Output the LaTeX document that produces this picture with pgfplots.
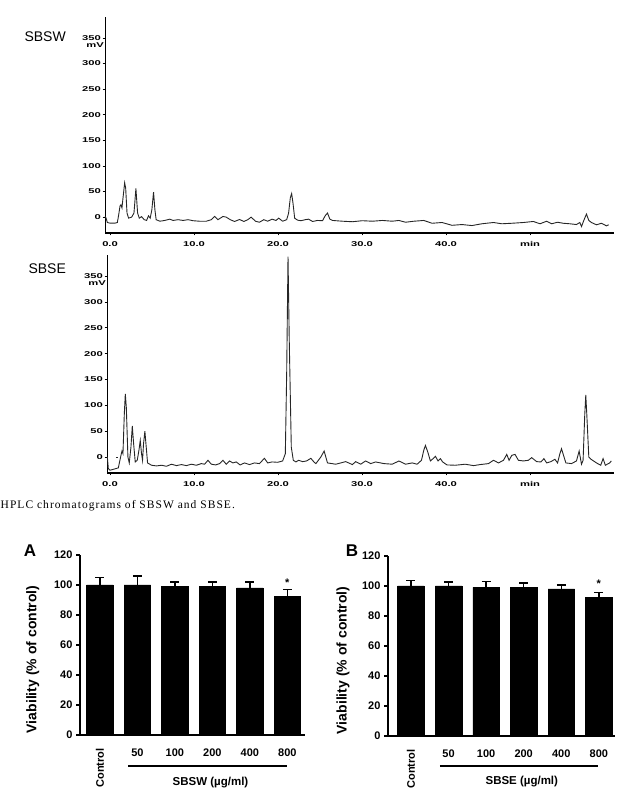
\documentclass[border=0pt]{standalone}
\usepackage{fontspec}
\setmainfont{Liberation Sans}
\newfontfamily\capfont[LetterSpace=9]{Liberation Serif}
\usepackage{graphicx}
\usepackage{pgfplots}
\pgfplotsset{compat=1.18}
\newcommand{\cl}[1]{\scalebox{1.6}[1]{\fontsize{7}{7}\selectfont\bfseries #1}}
\pgfplotsset{
  chrom/.style={
    scale only axis, anchor=south west,
    axis x line=bottom, axis y line=left,
    axis line style={-, black},
    x axis line style={line width=1.3pt},
    y axis line style={line width=0.8pt},
    tick align=outside, major tick length=2.5pt,
    tick style={black, line width=0.8pt},
    xtick={0,10,20,30,40,50},
    xticklabels={\cl{0.0},\cl{10.0},\cl{20.0},\cl{30.0},\cl{40.0},\cl{min}},
    ytick={0,50,100,150,200,250,300,350},
    yticklabels={\cl{0},\cl{50},\cl{100},\cl{150},\cl{200},\cl{250},\cl{300},\cl{350}},
    xticklabel style={inner sep=1.5pt, yshift=-4pt},
    yticklabel style={inner sep=1.5pt},
    ymin=-31, ymax=391, clip=false,
  },
  vbar/.style={
    scale only axis, anchor=south west,
    axis x line=bottom, axis y line=left,
    axis line style={-, black, line width=1.1pt},
    ymin=0, ymax=120, ytick={0,20,...,120},
    /pgf/number format/assume math mode=true,
    tick align=outside, major tick length=4pt,
    y tick style={black, line width=1.1pt},
    x tick style={draw=none},
    xtick={0,1,2,3,4,5},
    xticklabels={\rotatebox{90}{Control},50,100,200,400,800},
    tick label style={font=\fontsize{11}{12}\selectfont\bfseries},
    xticklabel style={yshift=-6pt},
    ylabel={Viability (\% of control)},
    ylabel style={font=\fontsize{14}{15}\selectfont\bfseries, anchor=center},
    clip=false, height=180pt,
  },
}
\begin{document}
\begin{tikzpicture}[x=1pt,y=1pt]
\useasboundingbox (0,0) rectangle (637,802);

% ---------------- SBSW chromatogram ----------------
\node[anchor=west, font=\fontsize{14}{14}\selectfont] at (21,765) {SBSW};
\begin{axis}[chrom, at={(105pt,569pt)}, width=509pt, height=216pt, xmin=-0.6, xmax=60]
\addplot[black!85, line width=0.9pt] coordinates {
(-0.59,1.3) (-0.47,-2) (-0.32,-10.5) (0,-11.8) (0.59,-11.8) (0.87,-10.5) (1.03,4.6)
(1.19,22) (1.30,24) (1.42,18) (1.54,37) (1.74,67) (1.86,57) (2.02,8) (2.21,-2)
(2.57,0) (2.85,8) (3.08,56) (3.28,8) (3.48,-2) (3.75,1) (4.07,-5) (4.35,-6.5)
(4.58,2.6) (4.78,-2) (4.98,14.5) (5.18,49) (5.34,14.5) (5.49,-5) (5.93,-8)
(6.52,-6.5) (7.11,-4) (7.51,-6.5) (8.10,-5) (8.70,-6.5) (9.29,-5) (9.88,-7)
(10.67,-8) (11.46,-8) (12.06,-5) (12.45,1.3) (12.85,-5) (13.44,1.3) (13.83,0)
(14.31,-5) (14.82,-8.5) (15.42,-4.6) (15.93,-8.5) (16.40,-5) (16.80,0) (17.31,-8)
(17.79,-10) (18.30,-5) (18.77,-8) (19.29,-4) (19.76,-6.5) (20.08,-2) (20.55,-8)
(21.03,-5) (21.26,8) (21.46,37.5) (21.62,46) (21.78,27.6) (21.98,-2) (22.33,-6)
(22.73,-7) (23.24,-5) (23.64,-4) (24.11,-8.5) (24.70,-6.5) (25.30,-7) (25.61,2.6)
(25.89,8) (26.17,-4) (26.48,-6.5) (27.67,-8) (28.85,-9) (30.04,-7) (31.23,-8)
(32.41,-6.5) (33.60,-8) (34.39,-6.5) (35.18,-10) (36.17,-8) (37.35,-6.5) (38.34,-12)
(39.53,-10.5) (40.71,-16) (41.90,-14.5) (43.08,-16.5) (44.27,-13) (45.65,-10.5)
(46.64,-13) (47.83,-12) (49.21,-10.5) (50.40,-8.5) (51.19,-13) (51.98,-8) (52.57,-13)
(53.28,-10) (53.95,-12) (54.74,-13) (55.53,-14.5) (55.93,-10.5) (56.13,-18.4)
(56.44,-5) (56.72,6) (57.00,-6.5) (57.31,-10.5) (57.91,-15) (58.50,-12) (59.09,-17)
(59.37,-15)
};
\node[anchor=north east, inner sep=1pt] at (axis cs:-0.6,343) {\cl{mV}};
\end{axis}

% ---------------- SBSE chromatogram ----------------
\node[anchor=west, font=\fontsize{14}{14}\selectfont] at (25,533) {SBSE};
\begin{axis}[chrom, at={(107pt,329pt)}, width=507pt, height=218pt, xmin=-0.36, xmax=60]
\addplot[black!85, line width=0.9pt] coordinates {
(-0.32,0) (-0.20,-22.4) (0,-25.6) (0.59,-23) (0.99,-21) (1.26,0) (1.42,11.5)
(1.54,6.4) (1.70,83) (1.82,122) (1.94,96) (2.13,0) (2.29,-11.5) (2.49,19) (2.65,60)
(2.81,25.6) (3.00,-9.6) (3.24,-6.4) (3.44,12.8) (3.60,32) (3.75,6.4) (3.87,-6.4)
(3.99,25.6) (4.15,50) (4.31,19) (4.47,-11.5) (4.94,-16) (5.53,-17.3) (6.13,-16)
(6.72,-18) (7.31,-14) (7.91,-16.7) (8.50,-14.7) (9.09,-16.7) (9.68,-14) (10.28,-16)
(10.87,-12.8) (11.26,-14) (11.66,-6.4) (12.06,-14) (12.57,-15.4) (13.04,-12.8)
(13.44,-6.4) (13.83,-14) (14.23,-7.7) (14.62,-11.5) (15.02,-9.6) (15.49,-15.4)
(16.01,-11.5) (16.60,-14.7) (17.19,-11.5) (17.79,-12.8) (18.38,-2.6) (18.77,-11.5)
(19.29,-9.6) (19.96,-10.3) (20.55,-7.7) (20.87,6.4) (21.03,160) (21.19,388)
(21.34,224) (21.58,19) (21.82,-6.4) (22.13,-9.6) (22.45,-6.4) (22.92,-9) (23.40,-7.7)
(23.91,-2.6) (24.31,-10.3) (24.51,-12.8) (25.10,0) (25.49,11.5) (25.89,-11.5)
(26.88,-14) (28.06,-9) (28.85,-14.7) (29.25,-9) (29.84,-14) (30.43,-7.7) (31.03,-12.8)
(31.62,-9.6) (32.61,-12.8) (33.60,-14) (34.39,-7.7) (35.18,-14) (35.97,-11.5)
(36.56,-14) (37.08,-6.4) (37.35,12.8) (37.55,22.4) (37.83,9.6) (38.14,-7.7)
(38.46,-3.2) (38.74,1.3) (39.05,-7.7) (39.33,-3.2) (39.60,-9.6) (40.12,-15.4)
(41.11,-16) (42.29,-14) (43.28,-16.7) (44.07,-14.7) (45.06,-12.8) (45.65,-6.4)
(46.25,-11.5) (46.84,-6.4) (47.23,5) (47.51,-6.4) (47.83,3.2) (48.22,5) (48.62,-6.4)
(49.21,-7.7) (49.80,-6.4) (50.20,-1.3) (50.79,-9) (51.30,-9.6) (51.66,-3.2)
(51.98,-11.5) (52.49,-9) (52.96,-4.5) (53.28,-11.5) (53.56,6.4) (53.75,16) (53.99,3.2)
(54.27,-11.5) (54.94,-12.8) (55.53,-7.7) (55.85,11.5) (56.13,-14) (56.32,-6.4)
(56.52,83) (56.64,120) (56.76,83) (57.00,0) (57.31,-5) (57.91,-11.5) (58.42,-16)
(58.70,-3.2) (58.97,-16) (59.49,-11.5) (59.68,-7.7)
};
\addplot[black!85, line width=0.7pt] coordinates {(0.7,0) (1.0,0)};
\node[anchor=north east, inner sep=1pt] at (axis cs:-0.36,343) {\cl{mV}};
\end{axis}

% caption
\node[anchor=base west, inner sep=0pt, font=\capfont\fontsize{11.5}{12}\selectfont] at (0.5,293) {HPLC chromatograms of SBSW and SBSE.};

% ---------------- Panel A ----------------
\node[font=\fontsize{17}{17}\selectfont\bfseries] at (30,251) {A};
\begin{axis}[vbar, at={(80pt,67pt)}, width=225pt, xmin=-0.53, xmax=5.47,
  ylabel style={at={(axis description cs:-0.21,0.42)}}]
\addplot[ybar, bar width=26.5pt, fill=black, draw=black,
  error bars/.cd, y dir=plus, y explicit,
  error bar style={line width=1.5pt, black},
  error mark options={rotate=90, line width=1.5pt, mark size=4.5pt, black}]
  coordinates {(0,100) +- (0,5) (1,100) +- (0,6) (2,99) +- (0,3) (3,99) +- (0,3) (4,98) +- (0,4) (5,92.5) +- (0,4.5)};
\node[font=\fontsize{11}{12}\selectfont\bfseries] at (axis cs:5,101.3) {*};
\draw[line width=1.2pt] (axis cs:0.75,-20.7) -- (axis cs:4.99,-20.7);
\node[font=\fontsize{11.5}{12}\selectfont\bfseries] at (axis cs:2.95,-31.5) {SBSW (µg/ml)};
\end{axis}

% ---------------- Panel B ----------------
\node[font=\fontsize{17}{17}\selectfont\bfseries] at (352,251) {B};
\begin{axis}[vbar, at={(388pt,66pt)}, width=227pt, xmin=-0.61, xmax=5.43,
  ylabel style={at={(axis description cs:-0.198,0.42)}}]
\addplot[ybar, bar width=26.5pt, fill=black, draw=black,
  error bars/.cd, y dir=plus, y explicit,
  error bar style={line width=1.5pt, black},
  error mark options={rotate=90, line width=1.5pt, mark size=4.5pt, black}]
  coordinates {(0,100) +- (0,3.5) (1,100) +- (0,2.5) (2,99) +- (0,4) (3,99) +- (0,3) (4,98) +- (0,2.7) (5,92.5) +- (0,3)};
\node[font=\fontsize{11}{12}\selectfont\bfseries] at (axis cs:5,101.8) {*};
\draw[line width=1.2pt] (axis cs:0.77,-20) -- (axis cs:4.97,-20);
\node[font=\fontsize{11.5}{12}\selectfont\bfseries] at (axis cs:2.95,-30.5) {SBSE (µg/ml)};
\end{axis}
\end{tikzpicture}
\end{document}
